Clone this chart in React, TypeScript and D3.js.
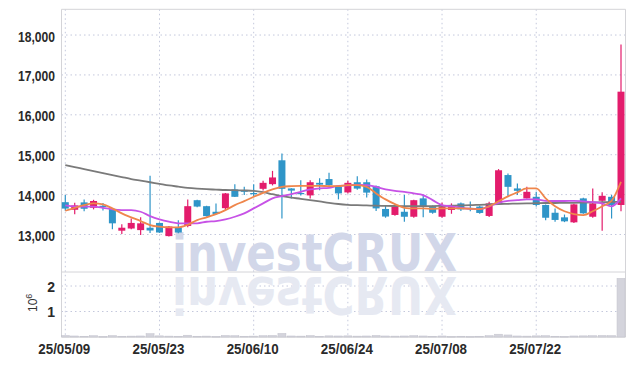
import React from 'react';
import * as d3 from 'd3';

// 60 trading days, 2025-05-09 .. 2025-08-04
const dates = [
  '25/05/09', '25/05/12', '25/05/13', '25/05/14', '25/05/15', '25/05/16', '25/05/19', '25/05/20', '25/05/21', '25/05/22',
  '25/05/23', '25/05/26', '25/05/27', '25/05/28', '25/05/29', '25/05/30', '25/06/02', '25/06/04', '25/06/05', '25/06/09',
  '25/06/10', '25/06/11', '25/06/12', '25/06/13', '25/06/16', '25/06/17', '25/06/18', '25/06/19', '25/06/20', '25/06/23',
  '25/06/24', '25/06/25', '25/06/26', '25/06/27', '25/06/30', '25/07/01', '25/07/02', '25/07/03', '25/07/04', '25/07/07',
  '25/07/08', '25/07/09', '25/07/10', '25/07/11', '25/07/14', '25/07/15', '25/07/16', '25/07/17', '25/07/18', '25/07/21',
  '25/07/22', '25/07/23', '25/07/24', '25/07/25', '25/07/28', '25/07/29', '25/07/30', '25/07/31', '25/08/01', '25/08/04',
];

const open = [
  13810, 13620, 13805, 13670, 13720, 13640, 13095, 13150, 13110, 13170,
  13290, 12960, 13180, 13215, 13860, 13710, 13570, 13660, 14130, 14100,
  14040, 14145, 14262, 14860, 14155, 14040, 13980, 14295, 14390, 14195,
  14055, 14310, 14310, 14210, 13640, 13490, 13570, 13445, 13905, 13710,
  13445, 13615, 13780, 13665, 13700, 13465, 13760, 14490, 14155, 13905,
  13945, 13740, 13545, 13430, 13305, 13905, 13445, 13845, 13945, 13740,
];
const high = [
  13990, 13795, 13880, 13870, 13790, 13650, 13260, 13400, 13430, 14470,
  13300, 13210, 13360, 13880, 13870, 13720, 13780, 14040, 14260, 14200,
  14260, 14350, 14595, 15030, 14160, 14360, 14360, 14410, 14550, 14200,
  14350, 14460, 14380, 14230, 13720, 13720, 13990, 13870, 14000, 13730,
  13800, 13780, 13800, 13830, 13720, 13820, 14640, 14530, 14280, 14200,
  14070, 13750, 13650, 13500, 13770, 13920, 14155, 14060, 13990, 17760,
];
const low = [
  13595, 13510, 13580, 13630, 13600, 13130, 13010, 13130, 12990, 13040,
  13040, 12950, 13030, 13180, 13680, 13450, 13500, 13600, 13940, 13990,
  13960, 14100, 14230, 13400, 13900, 13980, 13900, 14110, 14190, 13880,
  14030, 14120, 13930, 13590, 13420, 13470, 13320, 13420, 13430, 13520,
  13420, 13520, 13590, 13580, 13520, 13440, 13740, 13945, 13990, 13900,
  13700, 13360, 13320, 13310, 13290, 13520, 13420, 13095, 13400, 13580,
];
const close = [
  13650, 13730, 13645, 13840, 13700, 13280, 13170, 13290, 13280, 13100,
  13050, 13200, 13050, 13710, 13700, 13460, 13515, 14030, 13945, 14080,
  14020, 14295, 14430, 14145, 14100, 14020, 14310, 14250, 14240, 14030,
  14295, 14150, 14050, 13655, 13450, 13705, 13445, 13860, 13695, 13545,
  13705, 13705, 13630, 13650, 13540, 13780, 14610, 14195, 14095, 14070,
  13740, 13420, 13365, 13330, 13755, 13530, 13780, 13970, 13740, 16580,
];
const volume = [
  60000, 40000, 30000, 50000, 25000, 55000, 30000, 35000, 40000, 130000,
  45000, 35000, 30000, 70000, 30000, 35000, 25000, 60000, 50000, 30000,
  35000, 50000, 60000, 140000, 40000, 35000, 55000, 30000, 45000, 40000,
  45000, 35000, 40000, 60000, 40000, 35000, 40000, 50000, 40000, 30000,
  40000, 25000, 30000, 25000, 30000, 50000, 110000, 80000, 40000, 35000,
  45000, 50000, 30000, 25000, 40000, 45000, 50000, 60000, 55000, 2300000,
];

// moving averages as drawn
const ma5 = [
  13595, 13670, 13737, 13780, 13755, 13655, 13530, 13430, 13337, 13237,
  13195, 13180, 13180, 13245, 13362, 13430, 13512, 13612, 13737, 13837,
  13945, 14045, 14130, 14195, 14212, 14220, 14220, 14220, 14212, 14212,
  14237, 14237, 14195, 14030, 13880, 13762, 13670, 13655, 13655, 13645,
  13655, 13655, 13655, 13645, 13637, 13707, 13832, 13957, 14055, 14155,
  14155, 13905, 13707, 13582, 13512, 13487, 13582, 13707, 13845, 14320,
];
const ma20 = [
  13730, 13705, 13700, 13700, 13670, 13630, 13612, 13612, 13570, 13462,
  13380, 13320, 13280, 13280, 13280, 13320, 13337, 13380, 13445, 13530,
  13655, 13780, 13905, 13962, 14012, 14070, 14130, 14155, 14170, 14220,
  14230, 14245, 14237, 14195, 14130, 14095, 14070, 14030, 13987, 13862,
  13737, 13707, 13670, 13645, 13637, 13707, 13795, 13845, 13862, 13880,
  13880, 13845, 13840, 13840, 13845, 13830, 13812, 13780, 13707, 13905,
];
const ma60 = [
  14740, 14690, 14640, 14590, 14540, 14490, 14440, 14390, 14350, 14310,
  14270, 14230, 14200, 14170, 14150, 14135, 14125, 14115, 14110, 14105,
  14095, 14060, 14010, 13960, 13925, 13895, 13862, 13830, 13795, 13765,
  13745, 13735, 13728, 13722, 13718, 13715, 13712, 13710, 13710, 13712,
  13718, 13722, 13728, 13734, 13745, 13755, 13765, 13770, 13775, 13780,
  13785, 13790, 13790, 13795, 13795, 13800, 13805, 13810, 13815, 13820,
];

const dateTicks = ['25/05/09', '25/05/23', '25/06/10', '25/06/24', '25/07/08', '25/07/22'];
const priceTicks = [13000, 14000, 15000, 16000, 17000, 18000];
const volumeTicks = [1, 2];

const UP = '#e31c6c';
const DOWN = '#2f95c8';
const GRID = '#c4c8dc';
const LABEL_FONT = '"Liberation Sans", Arial, sans-serif';
const MARK_FONT = '"DejaVu Sans", sans-serif';

export default function App() {
  const left = 61.5, right = 625.5, top = 9.3, split = 272, bottom = 337;

  const x = d3.scalePoint<string>().domain(dates).range([65.3, 621]);
  const y = d3.scaleLinear().domain([12060, 18645]).range([split, top]);
  const yv = d3.scaleLinear().domain([0, 2.55]).range([bottom, split]);
  const bodyW = 7;
  const volW = 8;

  const maLine = (vals: number[]) =>
    d3.line<number>()
      .x((_, i) => x(dates[i])!)
      .y(d => y(d))
      .curve(d3.curveMonotoneX)(vals) || '';

  const fmt = d3.format(',');

  return (
    <svg width={634} height={366} style={{ position: 'absolute', left: 0, top: 0, background: '#fff' }}>
      {/* grid */}
      {priceTicks.map(t => (
        <line key={'gp' + t} x1={left} x2={right} y1={y(t)} y2={y(t)} stroke={GRID} strokeDasharray="1.5,3" />
      ))}
      {volumeTicks.map(t => (
        <line key={'gv' + t} x1={left} x2={right} y1={yv(t)} y2={yv(t)} stroke={GRID} strokeDasharray="1.5,3" />
      ))}
      {dateTicks.map(d => (
        <line key={'gx' + d} x1={x(d)} x2={x(d)} y1={top} y2={bottom} stroke={GRID} strokeDasharray="1.5,3" />
      ))}

      {/* watermark + reflection */}
      <text x={172} y={271} fontFamily={MARK_FONT} fontWeight="bold" fontSize={51}
        textLength={285} lengthAdjust="spacingAndGlyphs" fill="#d2d7e9">investCRUX</text>
      <g transform="translate(0, 548) scale(1,-1)">
        <text x={172} y={271} fontFamily={MARK_FONT} fontWeight="bold" fontSize={51}
          textLength={285} lengthAdjust="spacingAndGlyphs" fill="#e6e9f2">investCRUX</text>
      </g>

      {/* frame */}
      <line x1={left} x2={right} y1={top} y2={top} stroke="#d4d4d8" />
      <line x1={left} x2={left} y1={top} y2={bottom} stroke="#d4d4d8" />
      <line x1={right} x2={right} y1={top} y2={bottom} stroke="#d4d4d8" />
      <line x1={left} x2={right} y1={split} y2={split} stroke="#d4d4d8" />
      <line x1={left} x2={right} y1={bottom} y2={bottom} stroke="#c4c4c8" />

      {/* volume */}
      {volume.map((v, i) => (
        <rect key={'v' + i} x={x(dates[i])! - volW / 2} width={volW}
          y={yv(v / 1e6)} height={Math.max(0.8, bottom - yv(v / 1e6))}
          fill="#d4d4dc" stroke="#c2c2cc" strokeWidth={0.5} />
      ))}

      {/* candles */}
      {dates.map((d, i) => {
        const c = close[i] >= open[i] ? UP : DOWN;
        const cx = x(d)!;
        const yTop = y(Math.max(open[i], close[i]));
        const yBot = y(Math.min(open[i], close[i]));
        return (
          <g key={'c' + i}>
            <line x1={cx} x2={cx} y1={y(high[i])} y2={y(low[i])} stroke={c} strokeWidth={1.2} />
            <rect x={cx - bodyW / 2} width={bodyW} y={yTop} height={Math.max(1.2, yBot - yTop)} fill={c} />
          </g>
        );
      })}

      {/* moving averages */}
      <path d={maLine(ma60)} fill="none" stroke="#7a7a7a" strokeWidth={1.8} />
      <path d={maLine(ma20)} fill="none" stroke="#c752e6" strokeWidth={1.8} />
      <path d={maLine(ma5)} fill="none" stroke="#ef864c" strokeWidth={1.8} />

      {/* axis labels */}
      {priceTicks.map(t => (
        <text key={'tp' + t} x={55} y={y(t) + 6.5} textAnchor="end" fontFamily={LABEL_FONT}
          fontWeight="bold" fontSize={14} fill="#2a2a2a" textLength={37} lengthAdjust="spacingAndGlyphs">{fmt(t)}</text>
      ))}
      {volumeTicks.map(t => (
        <text key={'tv' + t} x={55} y={yv(t) + 5.5} textAnchor="end" fontFamily={LABEL_FONT}
          fontWeight="bold" fontSize={14} fill="#2a2a2a">{t}</text>
      ))}
      {dateTicks.map(d => (
        <text key={'tx' + d} x={x(d)! - 1} y={354} textAnchor="middle" fontFamily={LABEL_FONT}
          fontWeight="bold" fontSize={15} fill="#2a2a2a" textLength={52} lengthAdjust="spacingAndGlyphs">{d}</text>
      ))}
      <text transform="translate(37, 312) rotate(-90)" fontFamily={LABEL_FONT}
        fontSize={12} fill="#333">
        10<tspan dy={-5} fontSize={9}>6</tspan>
      </text>
    </svg>
  );
}
